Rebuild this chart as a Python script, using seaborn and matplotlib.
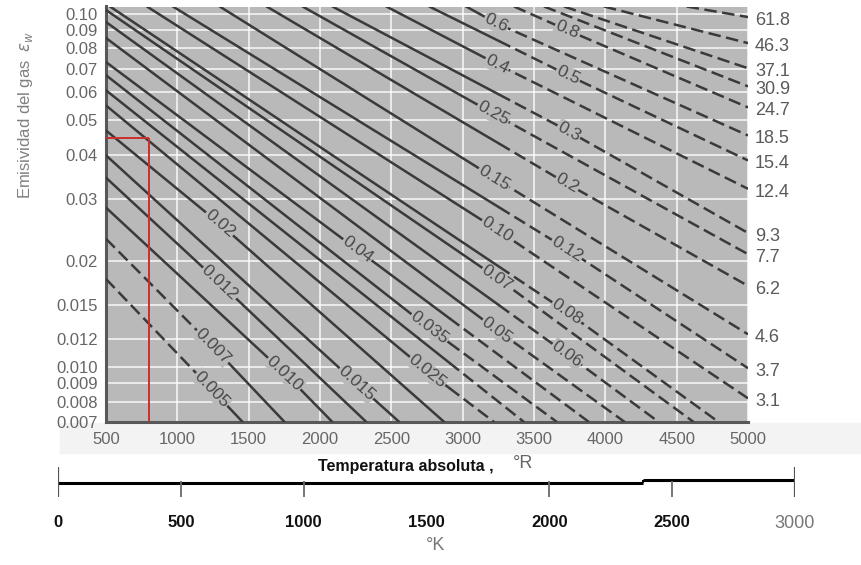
import numpy as np
import pandas as pd
import matplotlib
matplotlib.use("Agg")
import matplotlib.pyplot as plt
import seaborn as sns
from matplotlib import font_manager
from matplotlib.ticker import NullLocator
from matplotlib.patches import Rectangle

# ---------------- data ----------------
curve_names = ['2.0', '1.5', '1.2', '1.0', '0.8', '0.6', '0.5', '0.4', '0.3', '0.25',
               '0.2', '0.15', '0.12', '0.10', '0.08', '0.07', '0.06', '0.05', '0.04',
               '0.035', '0.03', '0.025', '0.02', '0.015', '0.012', '0.010', '0.007', '0.005']

# temperature (deg R) of the points
curve_T = [
    [4570, 5000],
    [3990, 5000],
    [3710, 5000],
    [3570, 5000],
    [3360, 3731, 5000],
    [3024, 3234, 5000],
    [2766, 3738, 5000],
    [2465, 3241, 5000],
    [2087, 3745, 5000],
    [1878, 3213, 5000],
    [1626, 3731, 5000],
    [1297, 3220, 5000],
    [969, 3731, 5000],
    [787, 3241, 5000],
    [528, 3731, 4794],
    [500, 3241, 4619],
    [500, 3731, 4374],
    [500, 3241, 4136],
    [500, 2262, 3885],
    [500, 2766, 3661],
    [500, 3430],
    [500, 2752, 3220],
    [500, 1297, 2871],
    [500, 2255, 2556],
    [500, 1297, 2325],
    [500, 1752, 2087],
    [500, 1248, 1752],
    [500, 1241, 1458],
]
# gas emissivity at those points
curve_eps = [
    [0.105, 0.0980],
    [0.105, 0.0827],
    [0.105, 0.0702],
    [0.105, 0.0624],
    [0.105, 0.0901, 0.0544],
    [0.105, 0.0943, 0.0453],
    [0.105, 0.0671, 0.0385],
    [0.105, 0.0721, 0.0320],
    [0.105, 0.0465, 0.0240],
    [0.105, 0.0523, 0.0209],
    [0.105, 0.0331, 0.0170],
    [0.105, 0.0344, 0.0124],
    [0.105, 0.0216, 0.00994],
    [0.105, 0.0245, 0.00817],
    [0.105, 0.01433, 0.0070],
    [0.1026, 0.0179, 0.0070],
    [0.0949, 0.01089, 0.0070],
    [0.0855, 0.01274, 0.0070],
    [0.0731, 0.0215, 0.0070],
    [0.0671, 0.01291, 0.0070],
    [0.0608, 0.0070],
    [0.0551, 0.00974, 0.0070],
    [0.0468, 0.0255, 0.0070],
    [0.0398, 0.0090, 0.0070],
    [0.0344, 0.01733, 0.0070],
    [0.0283, 0.00962, 0.0070],
    [0.0231, 0.01147, 0.0070],
    [0.01778, 0.00866, 0.0070],
]
# curves whose name is written inside the plot
inline_labelled = ['0.8', '0.6', '0.5', '0.4', '0.3', '0.25', '0.2', '0.15', '0.12', '0.10',
                   '0.08', '0.07', '0.06', '0.05', '0.04', '0.035', '0.025', '0.02',
                   '0.015', '0.012', '0.010', '0.007', '0.005']
# right-hand labels (same curves in cm·atm), for the first 14 curves
right_labels = ['61.8', '46.3', '37.1', '30.9', '24.7', '18.5', '15.4', '12.4',
                '9.3', '7.7', '6.2', '4.6', '3.7', '3.1']

x_ticks = [500, 1000, 1500, 2000, 2500, 3000, 3500, 4000, 4500, 5000]
y_ticks = [0.10, 0.09, 0.08, 0.07, 0.06, 0.05, 0.04, 0.03, 0.02, 0.015, 0.012,
           0.010, 0.009, 0.008, 0.007]
y_tick_labels = ['0.10', '0.09', '0.08', '0.07', '0.06', '0.05', '0.04', '0.03', '0.02',
                 '0.015', '0.012', '0.010', '0.009', '0.008', '0.007']

marker_T = 800        # red guide line
marker_eps = 0.0447

K_ticks = [0, 500, 1000, 2000, 2500, 3000]
K_labels = [0, 500, 1000, 1500, 2000, 2500, 3000]

# ---------------- style ----------------
sns.set_style("white")
avail = {f.name for f in font_manager.fontManager.ttflist}
base = 'Liberation Sans' if 'Liberation Sans' in avail else 'DejaVu Sans'
plt.rcParams['font.family'] = [base, 'DejaVu Sans']

BG = '#b9b9b9'
LINE = '#3a3a3a'
TXT = '#5a5a5a'

# dashed extrapolated parts (style only)
dash_hi = {}
for n in curve_names[:18]:
    dash_hi[n] = 3255
for n in ['0.04', '0.035', '0.03', '0.025']:
    dash_hi[n] = 2906
dash_lo = {'0.007': 1245, '0.005': 1245}

rows = []
seg = 0
for name, T, E in zip(curve_names, curve_T, curve_eps):
    T = np.asarray(T, float)
    lE = np.log10(np.asarray(E, float))
    lo = dash_lo.get(name, -np.inf)
    hi = dash_hi.get(name, np.inf)
    cuts = [c for c in (lo, hi) if T[0] < c < T[-1]]
    allT = np.unique(np.concatenate([T, cuts]))
    allE = 10 ** np.interp(allT, T, lE)
    bounds = [T[0]] + sorted(cuts) + [T[-1]]
    for a, b in zip(bounds[:-1], bounds[1:]):
        m = (allT >= a) & (allT <= b)
        mid = 0.5 * (a + b)
        style = 'dashed' if (mid < lo or mid > hi) else 'solid'
        for t, e in zip(allT[m], allE[m]):
            rows.append(dict(T=t, eps=e, seg=seg, part=style))
        seg += 1
df = pd.DataFrame(rows)

fig = plt.figure(figsize=(8.61, 5.65), dpi=100)
fig.patch.set_facecolor('white')
fig.add_artist(Rectangle((60 / 861, (565 - 453) / 565), 801 / 861, 30 / 565,
                         transform=fig.transFigure, color='#f3f3f3', zorder=-5))

ax = fig.add_axes([106 / 861, (565 - 422) / 565, 642 / 861, (422 - 6.5) / 565])
ax.set_facecolor(BG)

sns.lineplot(data=df, x='T', y='eps', units='seg', estimator=None, style='part',
             dashes={'solid': '', 'dashed': (5, 2.2)}, color=LINE, linewidth=1.8,
             legend=False, sort=False, ax=ax, zorder=3)

ax.set_yscale('log')
ax.set_xlim(500, 5000)
ax.set_ylim(0.007, 0.105)
ax.set_xticks(x_ticks)
ax.set_xticklabels([str(v) for v in x_ticks])
ax.set_yticks(y_ticks)
ax.set_yticklabels(y_tick_labels)
ax.yaxis.set_minor_locator(NullLocator())
ax.tick_params(axis='both', length=0, labelsize=12, labelcolor='#666666')
ax.tick_params(axis='y', pad=6)
ax.tick_params(axis='x', pad=7)
ax.set_xlabel('')
ax.set_ylabel('')
ax.grid(True, color='white', linewidth=1.1, alpha=0.9)
ax.set_axisbelow(True)
for s in ['top', 'right']:
    ax.spines[s].set_visible(False)
for s in ['left', 'bottom']:
    ax.spines[s].set_color('#585858')
    ax.spines[s].set_linewidth(2.2)

# red guide lines
ax.hlines(marker_eps, 500, marker_T, color='#cc2e2e', linewidth=1.4, zorder=4)
ax.vlines(marker_T, 0.007, marker_eps, color='#cc2e2e', linewidth=1.4, zorder=4)

# inline labels, rotated along their curve
for name, T, E in zip(curve_names, curve_T, curve_eps):
    if name in inline_labelled:
        p0 = ax.transData.transform((T[0], E[0]))
        p1 = ax.transData.transform((T[2], E[2]))
        ang = np.degrees(np.arctan2(p1[1] - p0[1], p1[0] - p0[0]))
        ax.text(T[1], E[1], name, rotation=ang, rotation_mode='anchor',
                ha='center', va='center', fontsize=12.5, color='#484848', zorder=5,
                bbox=dict(facecolor=BG, edgecolor='none', pad=0.6))

# right-hand labels
for lab, T, E in zip(right_labels, curve_T, curve_eps):
    ax.annotate(lab, xy=(T[-1], E[-1]), xytext=(5, -2.5), textcoords='offset points',
                ha='left', va='center', fontsize=13, color=TXT, annotation_clip=False)

# axis titles
fig.text(26 / 861, (565 - 115) / 565, 'Emisividad del gas  $\\varepsilon_w$', rotation=90,
         ha='center', va='center', fontsize=12, color='#808080')
fig.text(318 / 861, (565 - 466) / 565, 'Temperatura absoluta ,', ha='left', va='center',
         fontsize=11.5, fontweight='bold', color='#111111')
fig.text(513 / 861, (565 - 463) / 565, '°R', ha='left', va='center', fontsize=13,
         color='#666666')

# Kelvin scale below
axk = fig.add_axes([58 / 861, (565 - 497) / 565, 737 / 861, 30 / 565])
axk.set_xlim(0, 3000)
axk.set_ylim(0, 1)
axk.patch.set_visible(False)
for s in axk.spines.values():
    s.set_visible(False)
axk.set_yticks([])
axk.hlines(14 / 30, 0, 2380, color='black', linewidth=2.2)
axk.hlines(17 / 30, 2380, 3000, color='black', linewidth=2.2)
axk.vlines(2380, 14 / 30, 17 / 30, color='black', linewidth=1.5)
axk.vlines(K_ticks, 0, 16 / 30, color='#6a6a6a', linewidth=1.3)
axk.vlines([K_ticks[0], K_ticks[-1]], 0, 1.0, color='#555555', linewidth=1.6)
axk.set_xticks(K_labels)
axk.set_xticklabels([str(v) for v in K_labels])
axk.tick_params(axis='x', length=0, pad=13, labelsize=12)
for t in axk.get_xticklabels():
    t.set_fontweight('bold')
    t.set_color('#111111')
last = axk.get_xticklabels()[-1]
last.set_fontweight('normal')
last.set_color('#777777')
last.set_fontsize(13)
fig.text(436 / 861, (565 - 545) / 565, '°K', ha='center', va='center', fontsize=13,
         color='#777777')

fig.savefig('out.png', dpi=100, facecolor='white')
